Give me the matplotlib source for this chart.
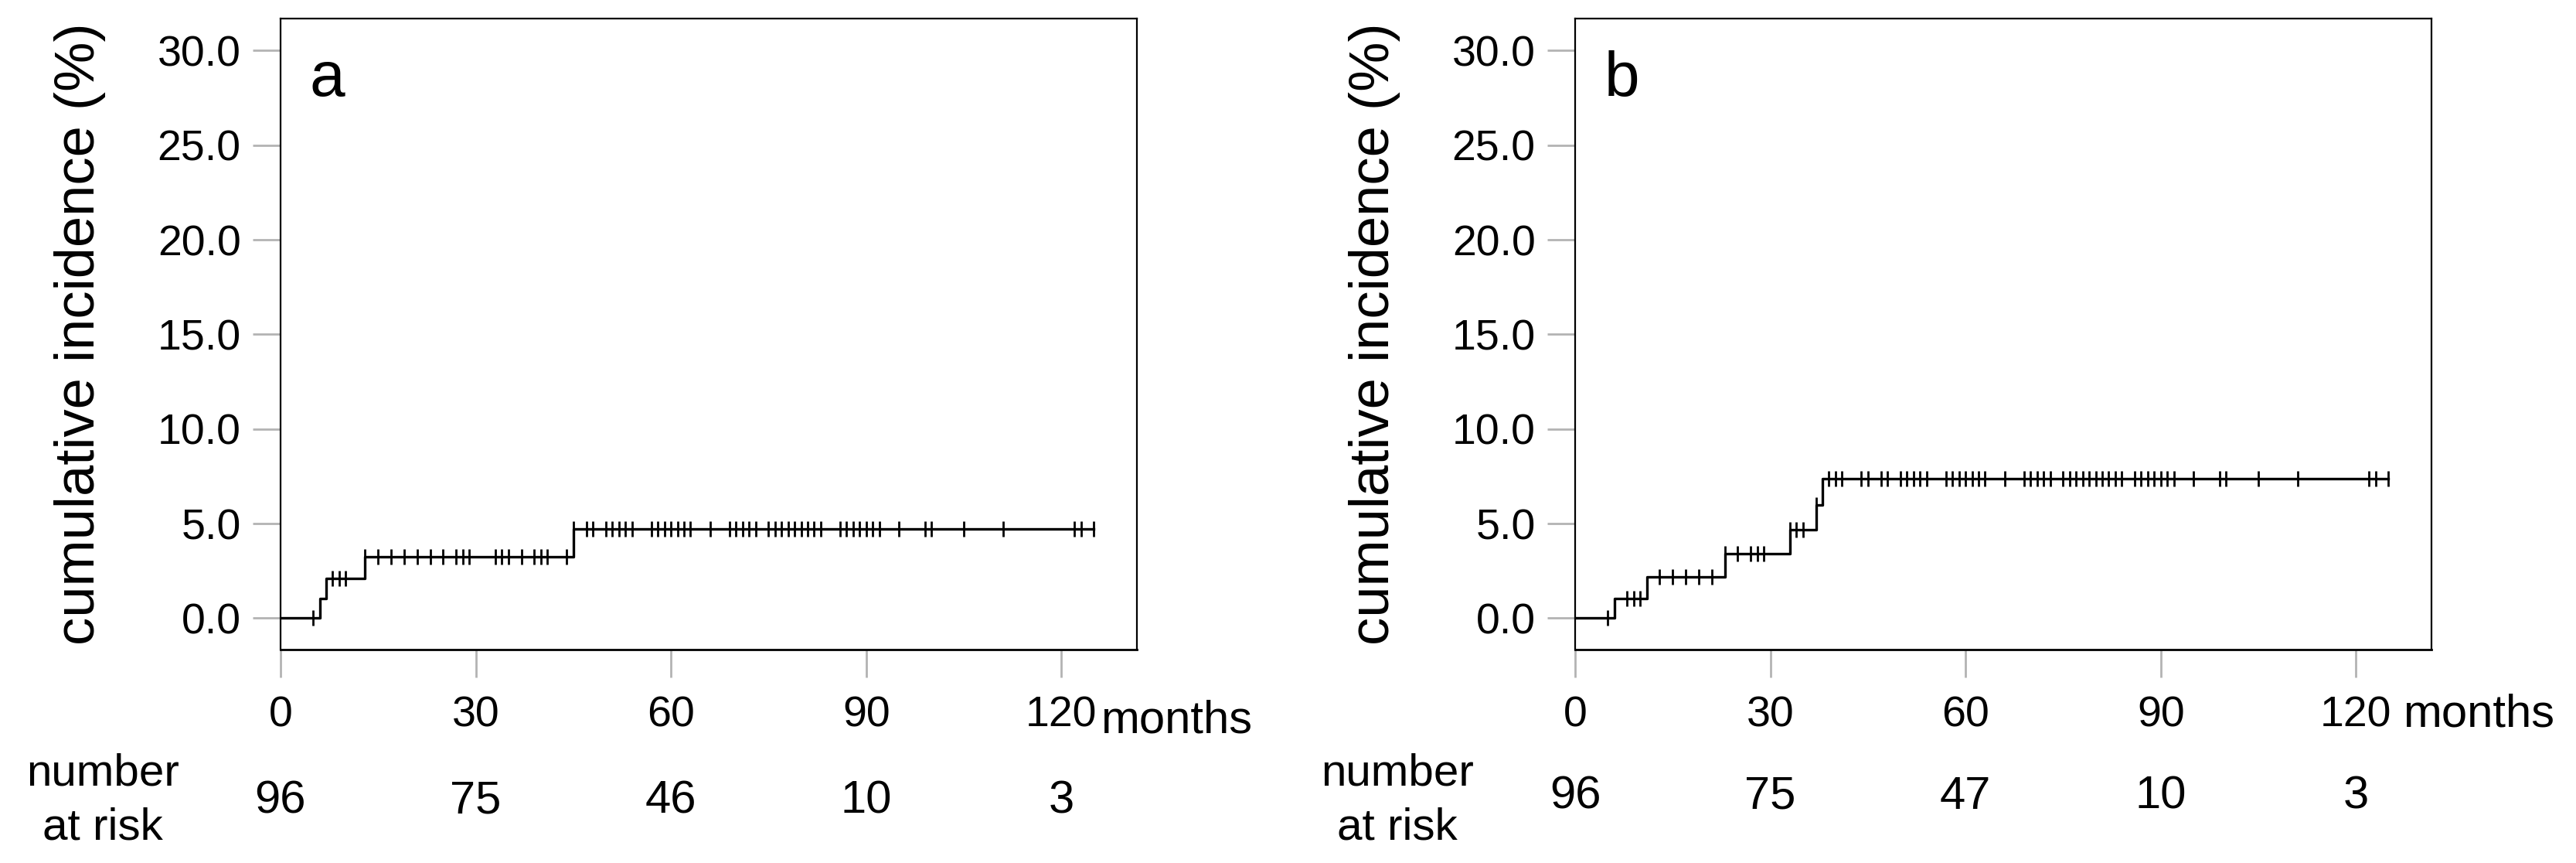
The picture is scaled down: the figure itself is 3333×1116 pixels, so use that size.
import numpy as np
import matplotlib
matplotlib.use("Agg")
import matplotlib.pyplot as plt
from matplotlib.transforms import blended_transform_factory

plt.rcParams['font.family'] = ['Liberation Sans', 'DejaVu Sans']

# panel a: event times (months) and cumulative incidence after each event (%)
a_event_t = [6, 7, 13, 45]
a_event_y = [1.05, 2.1, 3.23, 4.7]
a_censor_t = [5, 8, 9, 10, 13, 15, 17, 19, 21, 23, 25, 27, 28, 29, 33, 34, 35,
              37, 39, 40, 41, 44, 45, 47, 48, 50, 51, 52, 53, 54, 57, 58, 59,
              60, 61, 62, 63, 66, 69, 70, 71, 72, 73, 75, 76, 77, 78, 79, 80,
              81, 82, 83, 86, 87, 88, 89, 90, 91, 92, 95, 99, 100, 105, 111,
              122, 123, 125]
a_risk = [96, 75, 46, 10, 3]

# panel b
b_event_t = [6, 11, 23, 33, 37, 38]
b_event_y = [1.05, 2.17, 3.39, 4.67, 5.98, 7.39]
b_censor_t = [5, 8, 9, 10, 13, 15, 17, 19, 21, 23, 25, 27, 28, 29, 33, 34, 35,
              37, 39, 40, 41, 44, 45, 47, 48, 50, 51, 52, 53, 54, 57, 58, 59,
              60, 61, 62, 63, 66, 69, 70, 71, 72, 73, 75, 76, 77, 78, 79, 80,
              81, 82, 83, 84, 86, 87, 88, 89, 90, 91, 92, 95, 99, 100, 105,
              111, 122, 123, 125]
b_risk = [96, 75, 47, 10, 3]

x_ticks = [0, 30, 60, 90, 120]
y_ticks = [0, 5, 10, 15, 20, 25, 30]
end_t = 125

fig = plt.figure(figsize=(33.33, 11.16), dpi=100)
W, H = 3333, 1116

def fy(px):
    # pixel row from top -> figure fraction
    return 1 - px / H

grey = '#b3b3b3'

def panel(left_px, label, ev_t, ev_y, cen_t, risk, months_x, months_base, risk_base):
    ax = fig.add_axes([left_px / W, fy(840), 1108 / W, (840 - 24) / H])
    t = np.array([0] + ev_t + [end_t], dtype=float)
    y = np.array([0] + ev_y + [ev_y[-1]], dtype=float)
    ax.step(t, y, where='post', color='black', lw=2.4, zorder=3)
    ct = np.array(cen_t, dtype=float)
    idx = np.searchsorted(t, ct, side='right') - 1
    ax.plot(ct, y[idx], ls='none', marker='|', ms=14.5, mew=2.0,
            color='black', zorder=4)

    ax.set_xlim(0, 131.6)
    ax.set_ylim(-1.66, 31.69)
    ax.set_xticks(x_ticks)
    ax.set_yticks(y_ticks)
    ax.set_yticklabels(['%.1f' % v for v in y_ticks])
    ax.tick_params(axis='both', direction='out', length=26, width=2,
                   color=grey, labelsize=40)
    ax.tick_params(axis='x', pad=17)
    ax.tick_params(axis='y', pad=11)
    for s in ax.spines.values():
        s.set_linewidth(1.6)
        s.set_color('black')
    ax.spines['bottom'].set_linewidth(2.0)

    ax.set_ylabel('cumulative incidence (%)', fontsize=52)
    ax.yaxis.set_label_coords(-0.204, 0.5)

    ax.text(0.034, 0.877, label, transform=ax.transAxes, fontsize=59,
            va='baseline', ha='left')

    tr = blended_transform_factory(ax.transData, fig.transFigure)
    ax.text(months_x, fy(months_base), 'months', transform=tr, fontsize=43,
            ha='left', va='baseline')
    for xt, n in zip(x_ticks, risk):
        ax.text(xt, fy(risk_base), str(n), transform=tr, fontsize=43,
                ha='center', va='baseline')
    fig.text((left_px - 230) / W, fy(1015), 'number', fontsize=42,
             ha='center', va='baseline')
    fig.text((left_px - 230) / W, fy(1085), 'at risk', fontsize=42,
             ha='center', va='baseline')
    return ax

panel(363, 'a', a_event_t, a_event_y, a_censor_t, a_risk, 126.0, 948, 1052)
panel(2038, 'b', b_event_t, b_event_y, b_censor_t, b_risk, 127.2, 940, 1046)

fig.savefig('out.png', dpi=100, facecolor='white')
